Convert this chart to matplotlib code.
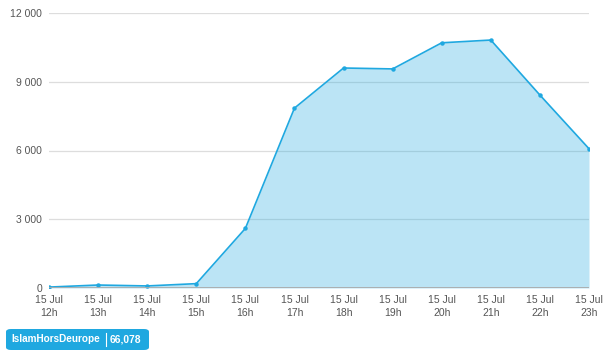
import matplotlib.pyplot as plt
from matplotlib.patches import FancyBboxPatch
from matplotlib.lines import Line2D

hours = ["12h", "13h", "14h", "15h", "16h", "17h", "18h", "19h", "20h", "21h", "22h", "23h"]
mentions = [40, 130, 90, 190, 2600, 7850, 9600, 9560, 10700, 10820, 8420, 6078]
yticks = [0, 3000, 6000, 9000, 12000]
series_name = "IslamHorsDeurope"
total = "66,078"

LINE = "#1fa8e0"
TXT = "#555555"

plt.rcParams["font.family"] = ["Liberation Sans", "DejaVu Sans"]

W, H = 613, 354
fig = plt.figure(figsize=(W / 100, H / 100), dpi=100)
ax = fig.add_axes([49 / W, 1 - 288 / H, 540 / W, 275 / H])

x = list(range(len(hours)))
for v in yticks[1:]:
    ax.axhline(v, color="#dddddd", lw=0.9, zorder=1)
ax.fill_between(x, mentions, 0, color=LINE, alpha=0.3, lw=0, zorder=2)
ax.plot(x, mentions, color=LINE, lw=1.2, marker="o", ms=2.2, zorder=3)

ax.set_xlim(0, len(hours) - 1)
ax.set_ylim(0, 12000)
ax.set_yticks(yticks)
ax.set_yticklabels([f"{v:,}".replace(",", " ") for v in yticks])
ax.set_xticks(x)
ax.set_xticklabels([f"15 Jul\n{h}" for h in hours], linespacing=1.35)
ax.tick_params(length=0, labelsize=7.5, colors=TXT, pad=5)
ax.tick_params(axis="y", pad=5)
ax.axhline(0, color="#aaaaaa", lw=2, zorder=4)
for s in ax.spines.values():
    s.set_visible(False)

# legend badge
badge = FancyBboxPatch((6 / W, 1 - 350 / H), 143 / W, 21 / H,
                       boxstyle="round,pad=0,rounding_size=0.008",
                       transform=fig.transFigure, fc=LINE, ec="none")
fig.patches.append(badge)
fig.text(11 / W, 1 - 339.5 / H, series_name, color="white", fontsize=7.2,
         fontweight="bold", va="center", ha="left")
fig.text(110 / W, 1 - 339.5 / H, total, color="white", fontsize=7.4,
         fontweight="bold", va="center", ha="left")
fig.lines.append(Line2D([106 / W, 106 / W], [1 - 346 / H, 1 - 333 / H],
                        transform=fig.transFigure, color="white", lw=0.8))

fig.savefig("out.png", dpi=100)
